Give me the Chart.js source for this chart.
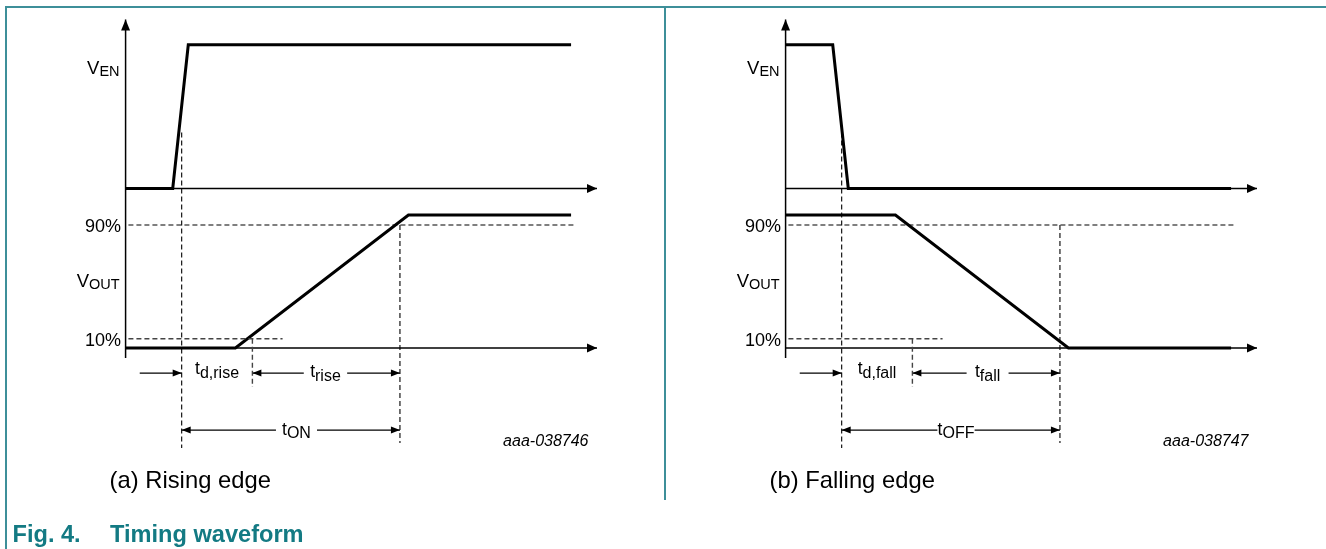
<!DOCTYPE html>
<html>
<head>
<meta charset="utf-8">
<script src="https://cdn.jsdelivr.net/npm/chart.js@4.4.0/dist/chart.umd.min.js"></script>
<style>
  html, body { margin: 0; padding: 0; background: #fff; }
  #page { position: relative; width: 1326px; height: 549px; overflow: hidden; }
  .rule { position: absolute; background: #3d8f99; }
  canvas { position: absolute; top: 0; }
</style>
</head>
<body>
<div id="page">
  <div class="rule" style="left:5px;top:6px;width:1321px;height:2px"></div>
  <div class="rule" style="left:5px;top:6px;width:2px;height:543px"></div>
  <div class="rule" style="left:664px;top:6px;width:2px;height:494px"></div>
  <canvas id="rise" width="663" height="549" style="left:0"></canvas>
  <canvas id="fall" width="663" height="549" style="left:660px"></canvas>
</div>
<script>
// time axis in arbitrary units, 0 = vertical axis, 100 = arrow tip
const enTimes  = [0, 10, 13.3, 94.5];
const enRise   = [1.2, 1.2, 2.28, 2.28];
const enFall   = [2.28, 2.28, 1.2, 1.2];
const outTimes = [0, 23.3, 60, 94.5];
const outRise  = [0, 0, 1, 1];
const outFall  = [1, 1, 0, 0];

// reference levels of VOUT
const levels      = [0.925, 0.07];
const levelLabels = ['90%', '10%'];
const levelEnds   = [95.4, 33.3];

// vertical markers: VEN edge, 10 % crossing, 90 % crossing
const markTimes   = [11.9, 26.9, 58.2];
const markTops    = [1.62, 0.07, 0.925];
const markBottoms = [-0.752, -0.293, -0.714];

// where the dimension lines break for their labels (t_rise / t_ON, t_fall / t_OFF)
const riseGaps = [[37.8, 47.0], [31.9, 40.6]];
const fallGaps = [[38.4, 47.3], [32.2, 40.1]];

const axisEnd = 100;
const axisTop = 2.47;
const axisBottom = -0.075;
const rowLevels = [-0.188, -0.617];
const dimStart = 3;

const FONT = '"Liberation Sans", Arial, sans-serif';

function pts(xs, ys) {
  return xs.map((x, i) => ({ x: x, y: ys[i] }));
}

function line(data, width, dash, color) {
  return {
    data: data,
    showLine: true,
    borderColor: color || '#000',
    borderWidth: width,
    borderDash: dash || [],
    pointRadius: 0,
    fill: false,
    tension: 0
  };
}

function arrowHead(ctx, x, y, dir, len, half) {
  ctx.beginPath();
  ctx.moveTo(x, y);
  if (dir === 'up') {
    ctx.lineTo(x - half, y + len);
    ctx.lineTo(x + half, y + len);
  } else {
    const s = dir === 'right' ? 1 : -1;
    ctx.lineTo(x - s * len, y - half);
    ctx.lineTo(x - s * len, y + half);
  }
  ctx.closePath();
  ctx.fill();
}

function subText(ctx, x, y, main, sub, mainPx, subPx, drop, align) {
  ctx.font = mainPx + 'px ' + FONT;
  const w1 = ctx.measureText(main).width;
  ctx.font = subPx + 'px ' + FONT;
  const w2 = ctx.measureText(sub).width;
  let x0 = x;
  if (align === 'right') x0 = x - w1 - w2;
  if (align === 'center') x0 = x - (w1 + w2) / 2;
  ctx.font = mainPx + 'px ' + FONT;
  ctx.fillText(main, x0, y);
  ctx.font = subPx + 'px ' + FONT;
  ctx.fillText(sub, x0 + w1, y + drop);
}

const panels = [
  { id: 'rise', en: enRise, out: outRise, dSub: 'd,rise', eSub: 'rise', tSub: 'ON',
    gaps: riseGaps, code: 'aaa-038746', caption: '(a) Rising edge', figure: true },
  { id: 'fall', en: enFall, out: outFall, dSub: 'd,fall', eSub: 'fall', tSub: 'OFF',
    gaps: fallGaps, code: 'aaa-038747', caption: '(b) Falling edge', figure: false }
];

function buildPanel(p) {
  const datasets = [];
  // dashed reference lines
  levels.forEach((lv, i) => {
    datasets.push(line(pts([0.6, levelEnds[i]], [lv, lv]), i ? 1.4 : 1.1, [5, 3], i ? '#444' : '#000'));
  });
  markTimes.forEach((t, i) => {
    datasets.push(line(pts([t, t], [markTops[i], markBottoms[i]]), i === 1 ? 1.4 : 1.1, [5, 3], i === 1 ? '#444' : '#000'));
  });
  // axes
  datasets.push(line(pts([0, 0], [axisBottom, axisTop]), 1.5));
  datasets.push(line(pts([0, axisEnd], [1.2, 1.2]), 1.5));
  datasets.push(line(pts([0, axisEnd], [0, 0]), 1.5));
  // dimension lines
  const r1 = rowLevels[0], r2 = rowLevels[1];
  datasets.push(line(pts([dimStart, markTimes[0]], [r1, r1]), 1.2));
  datasets.push(line(pts([markTimes[1], p.gaps[0][0]], [r1, r1]), 1.2));
  datasets.push(line(pts([p.gaps[0][1], markTimes[2]], [r1, r1]), 1.2));
  datasets.push(line(pts([markTimes[0], p.gaps[1][0]], [r2, r2]), 1.2));
  datasets.push(line(pts([p.gaps[1][1], markTimes[2]], [r2, r2]), 1.2));
  // waveforms
  datasets.push(line(pts(enTimes, p.en), 3));
  datasets.push(line(pts(outTimes, p.out), 3));

  const annot = {
    id: 'annot',
    afterDatasetsDraw(chart) {
      const ctx = chart.ctx;
      const px = t => chart.scales.x.getPixelForValue(t);
      const py = v => chart.scales.y.getPixelForValue(v);
      ctx.save();
      ctx.fillStyle = '#000';
      ctx.textBaseline = 'alphabetic';
      ctx.textAlign = 'left';

      // axis arrows
      arrowHead(ctx, px(0), py(axisTop), 'up', 11, 4.5);
      arrowHead(ctx, px(axisEnd), py(1.2), 'right', 10, 4.5);
      arrowHead(ctx, px(axisEnd), py(0), 'right', 10, 4.5);

      // dimension arrows
      arrowHead(ctx, px(markTimes[0]), py(r1), 'right', 9, 3.5);
      arrowHead(ctx, px(markTimes[1]), py(r1), 'left', 9, 3.5);
      arrowHead(ctx, px(markTimes[2]), py(r1), 'right', 9, 3.5);
      arrowHead(ctx, px(markTimes[0]), py(r2), 'left', 9, 3.5);
      arrowHead(ctx, px(markTimes[2]), py(r2), 'right', 9, 3.5);

      // signal labels
      const lx = px(0) - 6;
      subText(ctx, lx, py(2.06), 'V', 'EN', 18.5, 14.5, 2, 'right');
      subText(ctx, lx, py(0.459), 'V', 'OUT', 18.5, 14.5, 1.5, 'right');
      ctx.font = '18px ' + FONT;
      ctx.textAlign = 'right';
      levels.forEach((lv, i) => ctx.fillText(levelLabels[i], px(0) - 4.5, py(lv) + 7));
      ctx.textAlign = 'left';

      // timing labels
      subText(ctx, px((markTimes[0] + markTimes[1]) / 2), py(r1) + 1, 't', p.dSub, 17.5, 16, 3.5, 'center');
      subText(ctx, px((p.gaps[0][0] + p.gaps[0][1]) / 2), py(r1) + 4, 't', p.eSub, 17.5, 16, 4, 'center');
      subText(ctx, px((p.gaps[1][0] + p.gaps[1][1]) / 2), py(r2) + 5, 't', p.tSub, 17.5, 16, 2.5, 'center');

      // drawing code and caption
      ctx.font = 'italic 16px ' + FONT;
      ctx.textAlign = 'right';
      ctx.fillText(p.code, px(98.2), py(-0.74));
      ctx.textAlign = 'left';
      ctx.font = '23.8px ' + FONT;
      ctx.fillText(p.caption, px(-3.4), py(-1.05));

      if (p.figure) {
        ctx.fillStyle = '#137a83';
        ctx.font = 'bold 23.6px ' + FONT;
        ctx.fillText('Fig. 4.', 12.5, 541.5);
        ctx.fillText('Timing waveform', 110, 541.5);
      }
      ctx.restore();
    }
  };

  new Chart(document.getElementById(p.id), {
    type: 'scatter',
    data: { datasets: datasets },
    options: {
      responsive: false,
      animation: false,
      devicePixelRatio: 1,
      layout: { padding: 0 },
      plugins: { legend: { display: false }, tooltip: { enabled: false } },
      events: [],
      scales: {
        x: { type: 'linear', min: -26.64, max: 114.0, display: false },
        y: { type: 'linear', min: -1.511, max: 2.617, display: false }
      }
    },
    plugins: [annot]
  });
}

panels.forEach(buildPanel);
</script>
</body>
</html>
